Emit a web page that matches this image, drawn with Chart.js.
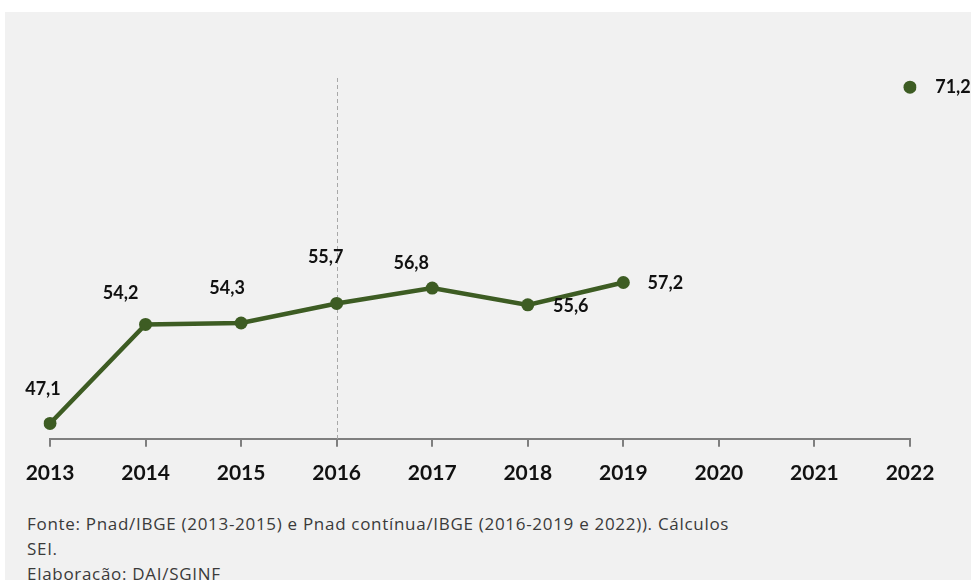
<!DOCTYPE html>
<html lang="pt-BR">
<head>
<meta charset="utf-8">
<script src="https://cdn.jsdelivr.net/npm/chart.js@4.4.1/dist/chart.umd.min.js"></script>
<style>
  html, body { margin: 0; padding: 0; background: #ffffff; }
  body { width: 971px; height: 580px; overflow: hidden; position: relative; }
  #panel { position: absolute; left: 5px; top: 12px; width: 966px; height: 568px; background: #f1f1f1; }
  #wrap { position: absolute; left: 0; top: 0; width: 971px; height: 506px; }
  #note { position: absolute; left: 27px; top: 511px; font-family: "Open Sans", Lato, sans-serif;
          font-size: 17px; line-height: 25px; color: #3a3a3a; white-space: nowrap; letter-spacing: 0.7px; }
</style>
</head>
<body>
<div id="panel"></div>
<div id="wrap"><canvas id="chart" width="971" height="506"></canvas></div>
<div id="note">Fonte: Pnad/IBGE (2013-2015) e Pnad contínua/IBGE (2016-2019 e 2022)). Cálculos<br>SEI.<br>Elaboração: DAI/SGINF</div>
<script>
// Anos e valores da série (2020 e 2021 sem dado)
const years = ['2013', '2014', '2015', '2016', '2017', '2018', '2019', '2020', '2021', '2022'];
const values = [47.1, 54.2, 54.3, 55.7, 56.8, 55.6, 57.2, null, null, 71.2];
// Ano em que a fonte muda (linha tracejada)
const breakYear = '2016';

// Deslocamento de cada rótulo em relação ao seu ponto [dx, dy]
const labelOffsets = [[-7, -34], [-25, -31], [-14, -35], [-11, -46], [-21, -25], [43, 1], [42, 1], null, null, [43, 0]];

const green = '#3d5c23';

const fmt = v => v.toFixed(1).replace('.', ',');

const breakLine = {
  id: 'breakLine',
  beforeDatasetsDraw(chart) {
    const { ctx, chartArea, scales } = chart;
    const x = Math.round(scales.x.getPixelForValue(years.indexOf(breakYear))) + 0.5;
    ctx.save();
    ctx.strokeStyle = '#a8a8a8';
    ctx.lineWidth = 1;
    ctx.setLineDash([4, 3]);
    ctx.beginPath();
    ctx.moveTo(x, chartArea.top + 2);
    ctx.lineTo(x, chartArea.bottom);
    ctx.stroke();
    ctx.restore();
  }
};

const pointLabels = {
  id: 'pointLabels',
  afterDatasetsDraw(chart) {
    const { ctx } = chart;
    const meta = chart.getDatasetMeta(0);
    ctx.save();
    ctx.font = 'bold 18px Lato, "Open Sans", sans-serif';
    ctx.fillStyle = '#111111';
    ctx.textAlign = 'center';
    ctx.textBaseline = 'middle';
    meta.data.forEach((pt, i) => {
      const v = values[i];
      if (v === null || !labelOffsets[i]) return;
      const [dx, dy] = labelOffsets[i];
      ctx.fillText(fmt(v), pt.x + dx, pt.y + dy);
    });
    ctx.restore();
  }
};

new Chart(document.getElementById('chart'), {
  type: 'line',
  data: {
    labels: years,
    datasets: [{
      data: values,
      borderColor: green,
      backgroundColor: green,
      borderWidth: 4.5,
      pointRadius: 6.5,
      pointHoverRadius: 6.5,
      pointBackgroundColor: green,
      pointBorderColor: green,
      pointBorderWidth: 0,
      spanGaps: false,
      tension: 0
    }]
  },
  options: {
    responsive: false,
    animation: false,
    layout: { padding: { left: 50, right: 61, top: 76, bottom: 6 } },
    plugins: { legend: { display: false }, tooltip: { enabled: false } },
    scales: {
      y: { display: false, min: 46, max: 72 },
      x: {
        offset: false,
        border: { display: true, color: '#7f7f7f', width: 2 },
        grid: { display: true, drawOnChartArea: false, drawTicks: true, tickLength: 8, color: '#7f7f7f', lineWidth: 2 },
        ticks: { color: '#111111', padding: 14, maxRotation: 0, autoSkip: false,
                 font: { family: 'Lato, "Open Sans", sans-serif', size: 21, weight: 'bold' } }
      }
    }
  },
  plugins: [breakLine, pointLabels]
});
</script>
</body>
</html>
